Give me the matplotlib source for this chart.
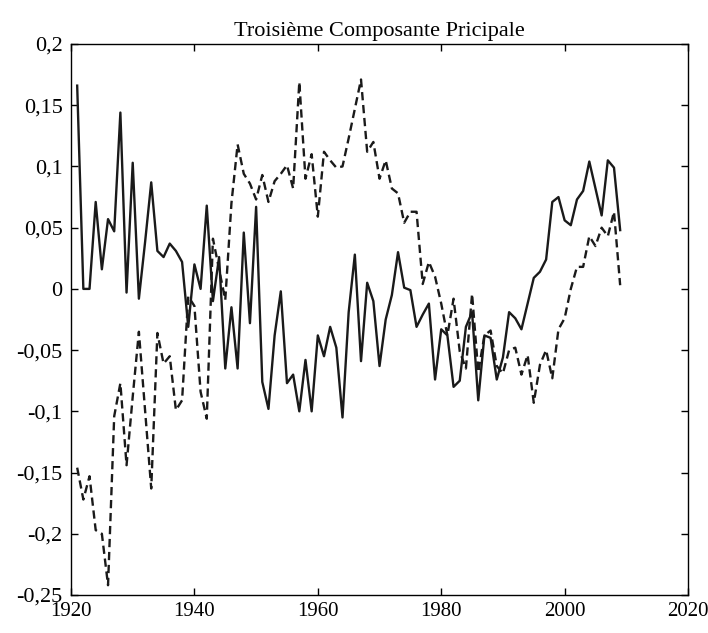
import matplotlib.pyplot as plt
import numpy as np

# Years and the two components
years = np.arange(1921, 2010)

solid = [0.166, 0.000, 0.000, 0.071, 0.016, 0.057, 0.047, 0.144, -0.003, 0.103,
         -0.008, 0.038, 0.087, 0.031, 0.026, 0.037, 0.031, 0.022, -0.031, 0.020,
         0.000, 0.068, -0.010, 0.026, -0.065, -0.015, -0.065, 0.046, -0.028, 0.067,
         -0.076, -0.098, -0.038, -0.002, -0.077, -0.070, -0.100, -0.058, -0.100, -0.038,
         -0.055, -0.031, -0.048, -0.105, -0.019, 0.028, -0.059, 0.005, -0.010, -0.063,
         -0.025, -0.005, 0.030, 0.001, -0.001, -0.031, -0.021, -0.012, -0.074, -0.033,
         -0.038, -0.080, -0.075, -0.031, -0.019, -0.091, -0.038, -0.040, -0.074, -0.056,
         -0.019, -0.024, -0.033, -0.012, 0.009, 0.014, 0.024, 0.071, 0.075, 0.056,
         0.052, 0.073, 0.080, 0.104, 0.082, 0.060, 0.105, 0.099, 0.048]

dashed = [-0.146, -0.172, -0.153, -0.197, -0.200, -0.242, -0.104, -0.077, -0.144, -0.088,
          -0.035, -0.099, -0.163, -0.036, -0.061, -0.055, -0.099, -0.091, -0.006, -0.014,
          -0.084, -0.106, 0.041, 0.016, -0.009, 0.070, 0.118, 0.094, 0.086, 0.073,
          0.093, 0.071, 0.088, 0.094, 0.101, 0.082, 0.169, 0.090, 0.110, 0.059,
          0.112, 0.105, 0.099, 0.100, 0.123, 0.147, 0.171, 0.112, 0.120, 0.090,
          0.105, 0.082, 0.078, 0.054, 0.063, 0.063, 0.004, 0.022, 0.010, -0.012,
          -0.038, -0.008, -0.051, -0.065, -0.004, -0.068, -0.038, -0.034, -0.063, -0.069,
          -0.050, -0.048, -0.070, -0.054, -0.093, -0.062, -0.050, -0.073, -0.033, -0.024,
          0.000, 0.018, 0.018, 0.043, 0.035, 0.050, 0.043, 0.063, 0.003]

yticks = [-0.25, -0.2, -0.15, -0.1, -0.05, 0, 0.05, 0.1, 0.15, 0.2]
ylabels = ['-0,25', '-0,2', '-0,15', '-0,1', '-0,05', '0', '0,05', '0,1', '0,15', '0,2']
xticks = [1920, 1940, 1960, 1980, 2000, 2020]

plt.rcParams['font.family'] = ['Liberation Serif', 'DejaVu Serif']

fig = plt.figure(figsize=(7.08, 6.33), dpi=100)
ax = fig.add_axes([0.1003, 0.060, 0.8715, 0.8705])

ax.plot(years, solid, color='#1a1a1a', lw=1.7, linestyle='-')
ax.plot(years, dashed, color='#1a1a1a', lw=1.7, linestyle=(0, (3.5, 2)))

ax.set_xlim(1920, 2020)
ax.set_ylim(-0.25, 0.2)
ax.set_xticks(xticks)
ax.set_yticks(yticks)
ax.set_yticklabels(ylabels)
ax.tick_params(direction='in', top=True, right=True, length=5, width=1)
ax.tick_params(axis='y', pad=6, labelsize=16)
ax.tick_params(axis='x', pad=5, labelsize=15)
for s in ax.spines.values():
    s.set_linewidth(1.0)
ax.set_title('Troisième Composante Pricipale', fontsize=16, pad=6)

fig.savefig('out.png', dpi=100)
